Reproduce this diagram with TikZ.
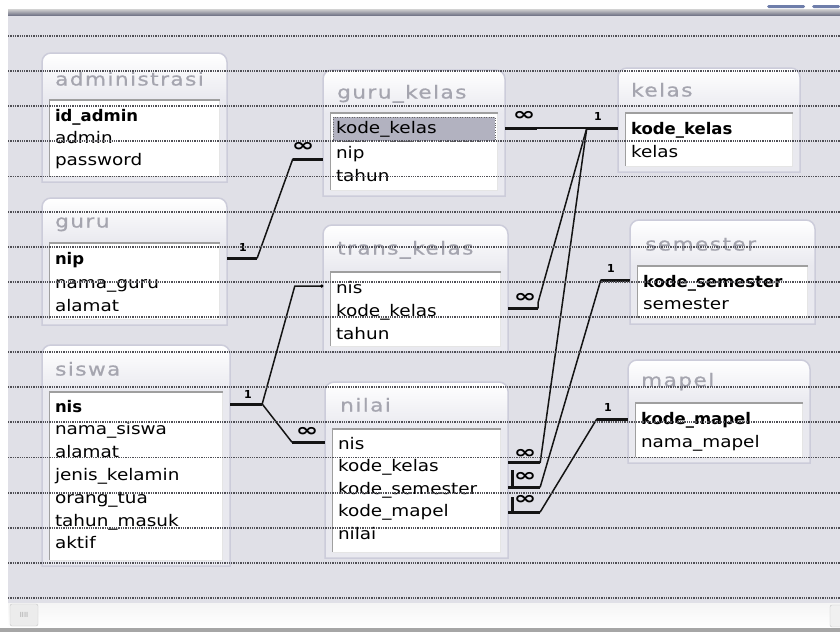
\documentclass[tikz,border=0pt]{standalone}
\usepackage{graphicx}
\usepackage{fontspec}
\setmainfont{DejaVu Sans}
\newfontfamily\fieldf[FakeStretch=1.15]{DejaVu Sans}
\newfontfamily\keyf[FakeStretch=1.03]{DejaVu Sans}
\newfontfamily\titlef[FakeStretch=1.2,LetterSpace=8,FakeBold=0.8]{DejaVu Sans}
\usetikzlibrary{calc}
\definecolor{canvasbg}{RGB}{224,224,231}
\definecolor{tblbg}{RGB}{233,233,239}
\definecolor{tblborder}{RGB}{204,204,218}
\definecolor{titlegray}{RGB}{165,165,175}
\definecolor{framegray}{RGB}{118,120,138}
\definecolor{hilite}{RGB}{178,178,192}
\definecolor{gridline}{RGB}{80,80,86}
\definecolor{btnblue}{RGB}{110,125,170}

\tikzset{
  fld/.style={inner xsep=13pt, inner ysep=0pt, text height=11.5pt, text depth=3.5pt,
    minimum height=22pt, align=left, font=\fieldf\fontsize{16}{19}\selectfont},
  ttl/.style={anchor=west, inner sep=0pt, text height=13pt, text depth=4pt, text=titlegray,
    font=\titlef\fontsize{18}{20}\selectfont},
  stubl/.style={draw=black!92, line width=3pt, line cap=butt},
  rel/.style={draw=black!92, line width=1.5pt, line cap=round, line join=round},
  onelbl/.style={inner sep=0pt, font=\bfseries\fontsize{11}{11}\selectfont},
  inflbl/.style={inner sep=0pt, font=\bfseries\fontsize{18}{18}\selectfont},
  gridl/.style={draw=gridline, line width=1.8pt, dash pattern=on 1.3pt off 1pt}
}

% #1 oL, #2 oT, #3 oR, #4 oB, #5 inner top
\newcommand{\tblframe}[5]{%
  \fill[tblbg] (#1,#4) [rounded corners=9pt] -- (#1,#2) -- (#3,#2) [sharp corners] -- (#3,#4) -- cycle;
  \begin{scope}
    \clip (#1,#4) [rounded corners=9pt] -- (#1,#2) -- (#3,#2) [sharp corners] -- (#3,#4) -- cycle;
    \shade[top color=white, bottom color=tblbg] (#1,#2) rectangle (#3,#5);
  \end{scope}
  \draw[tblborder, line width=1.5pt] (#1,#4) [rounded corners=9pt] -- (#1,#2) -- (#3,#2) [sharp corners] -- (#3,#4) -- cycle;
  \fill[white] (#1+7.5,#5) rectangle (#3-7.5,#4-6);
  \draw[black!10, line width=1pt] (#3-7.5,#5) -- (#3-7.5,#4-6) -- (#1+7.5,#4-6);
  \draw[gray!75, line width=1.2pt] (#1+7.5,#4-6) -- (#1+7.5,#5) -- (#3-7.5,#5);
}
% #1 name, #2 oL, #3 oR, #4 y, #5 text
\newcommand{\fieldrow}[5]{%
  \pgfmathsetmacro{\fw}{#3-#2-26}%
  \node[fld, text width=\fw pt] (#1) at ({(#2+#3)/2},#4) {#5};%
}

\begin{document}
\begin{tikzpicture}[x=1pt,y=-1pt]
\useasboundingbox (0,0) rectangle (840,632);
% window frame
\fill[white] (0,0) rectangle (840,632);
\fill[canvasbg] (8,15) rectangle (840,603);
\shade[top color=gray!35, bottom color=framegray] (8,9) rectangle (840,15);
\fill[btnblue, rounded corners=1.5pt] (767,5) rectangle (805,8);
\fill[btnblue, rounded corners=1.5pt] (812,5) rectangle (840,8);
\shade[top color=gray!8, bottom color=white] (8,603) rectangle (840,628);
\fill[gray!70] (0,628) rectangle (840,632);
\draw[gray!45, fill=gray!15, rounded corners=2pt] (10,604) rectangle (38,626);
\node[inner sep=0pt, text=gray!70, font=\fontsize{7}{7}\selectfont] (scrollgrip) at (24,615) {IIII};
\draw[gray!45, fill=gray!12, rounded corners=2pt] (830,605) rectangle (842,627);

% ---------- administrasi
\tblframe{42}{53}{227}{182}{100}
\node[ttl] (adm-t) at (55,81) {administrasi};
\fieldrow{adm-id}{42}{227}{117}{{\keyf\bfseries id\_admin}}
\fieldrow{adm-admin}{42}{227}{139}{admin}
\fieldrow{adm-pw}{42}{227}{161}{password}

% ---------- guru_kelas
\tblframe{323}{70}{505}{196}{113}
\node[ttl] (gk-t) at (337,94) {guru\_kelas};
\draw[fill=hilite, draw=black!60, dotted] (333,117) rectangle (495,141);
\fieldrow{gk-kk}{323}{505}{129}{kode\_kelas}
\fieldrow{gk-nip}{323}{505}{154}{nip}
\fieldrow{gk-th}{323}{505}{177}{tahun}

% ---------- kelas
\tblframe{618}{68}{800}{172}{113}
\node[ttl] (kl-t) at (631,92) {kelas};
\fieldrow{kl-kk}{618}{800}{130}{{\keyf\bfseries kode\_kelas}}
\fieldrow{kl-kelas}{618}{800}{153}{kelas}

% ---------- guru
\tblframe{42}{198}{227}{325}{243}
\node[ttl] (gr-t) at (55,223) {guru};
\fieldrow{gr-nip}{42}{227}{260}{{\keyf\bfseries nip}}
\fieldrow{gr-nama}{42}{227}{284}{nama\_guru}
\fieldrow{gr-alamat}{42}{227}{307}{alamat}

% ---------- trans_kelas
\tblframe{323}{225}{508}{352}{272}
\node[ttl] (tk-t) at (337,250) {trans\_kelas};
\fieldrow{tk-nis}{323}{508}{289}{nis}
\fieldrow{tk-kk}{323}{508}{312}{kode\_kelas}
\fieldrow{tk-th}{323}{508}{335}{tahun}

% ---------- semester
\tblframe{630}{220}{815}{324}{266}
\node[ttl] (sm-t) at (645,246) {semester};
\fieldrow{sm-ks}{630}{815}{283}{{\keyf\bfseries kode\_semester}}
\fieldrow{sm-sem}{630}{815}{305}{semester}

% ---------- siswa
\tblframe{42}{345}{230}{566}{392}
\node[ttl] (sw-t) at (55,371) {siswa};
\fieldrow{sw-nis}{42}{230}{408}{{\keyf\bfseries nis}}
\fieldrow{sw-nama}{42}{230}{430.8}{nama\_siswa}
\fieldrow{sw-alamat}{42}{230}{453.6}{alamat}
\fieldrow{sw-jk}{42}{230}{476.4}{jenis\_kelamin}
\fieldrow{sw-ot}{42}{230}{499.2}{orang\_tua}
\fieldrow{sw-tm}{42}{230}{522}{tahun\_masuk}
\fieldrow{sw-aktif}{42}{230}{544.8}{aktif}

% ---------- nilai
\tblframe{325}{382}{508}{558}{429}
\node[ttl] (nl-t) at (340,407) {nilai};
\fieldrow{nl-nis}{325}{508}{445}{nis}
\fieldrow{nl-kk}{325}{508}{467.5}{kode\_kelas}
\fieldrow{nl-ks}{325}{508}{490}{kode\_semester}
\fieldrow{nl-km}{325}{508}{512.5}{kode\_mapel}
\fieldrow{nl-nilai}{325}{508}{535}{nilai}

% ---------- mapel
\tblframe{628}{360}{810}{463}{403}
\node[ttl] (mp-t) at (641,382) {mapel};
\fieldrow{mp-km}{628}{810}{420}{{\keyf\bfseries kode\_mapel}}
\fieldrow{mp-nm}{628}{810}{443}{nama\_mapel}

% ---------- relationships
% guru.nip -> guru_kelas.nip
\draw[stubl] ($(gr-nip.east)+(0,-2)$) -- ++(30,0) coordinate (c1a);
\coordinate (c1b) at ($(gk-nip.west)+(-30,5)$);
\draw[stubl] (c1b) -- ($(gk-nip.west)+(0,5)$);
\draw[rel] (c1a) -- (c1b);
\node[onelbl] (l1) at (243,247) {1};
\node[inflbl] (i1) at (303,147) {\scalebox{1.5}[1]{∞}};

% guru_kelas.kode_kelas -> kelas.kode_kelas
\draw[stubl] ($(gk-kk.east)+(0,-1)$) -- ++(32,0) coordinate (c2a);
\coordinate (kj) at ($(kl-kk.west)+(-31,-2)$);
\draw[stubl] (kj) -- ($(kl-kk.west)+(0,-2)$);
\draw[rel] (c2a) -- (kj);
\node[inflbl] (i2) at (524,116) {\scalebox{1.5}[1]{∞}};
\node[onelbl] (l2) at (598,116) {1};

% trans_kelas.kode_kelas -> kelas.kode_kelas
\draw[stubl] ($(tk-kk.east)+(0,-4)$) -- ++(30,0) coordinate (c3a);
\draw[rel] (c3a) -- ++(0,-6) -- (kj);
\node[inflbl] (i3) at (525,298) {\scalebox{1.5}[1]{∞}};

% nilai.kode_kelas -> kelas.kode_kelas
\draw[stubl] ($(nl-kk.east)+(0,-5)$) -- ++(32,0) coordinate (c4a);
\draw[rel] (c4a) -- (kj);
\node[inflbl] (i4) at (525,454) {\scalebox{1.5}[1]{∞}};

% nilai.kode_semester -> semester.kode_semester
\draw[stubl] ($(nl-ks.east)+(4,-20)$) -- ($(nl-ks.east)+(4,-3)$);
\draw[stubl] ($(nl-ks.east)+(0,-3)$) -- ++(32,0) coordinate (c5a);
\coordinate (sj) at ($(sm-ks.west)+(-29,-3)$);
\draw[stubl] (sj) -- ($(sm-ks.west)+(0,-3)$);
\draw[rel] (c5a) -- (sj);
\node[inflbl] (i5) at (525,477) {\scalebox{1.5}[1]{∞}};
\node[onelbl] (l5) at (611,268) {1};

% nilai.kode_mapel -> mapel.kode_mapel
\draw[stubl] ($(nl-km.east)+(4,-15.5)$) -- ($(nl-km.east)+(4,-0.5)$);
\draw[stubl] ($(nl-km.east)+(0,-0.5)$) -- ++(32,0) coordinate (c6a);
\coordinate (mj) at ($(mp-km.west)+(-31,-1)$);
\draw[stubl] (mj) -- ($(mp-km.west)+(0,-1)$);
\draw[rel] (c6a) -- (mj);
\node[inflbl] (i6) at (525,500) {\scalebox{1.5}[1]{∞}};
\node[onelbl] (l6) at (608,407) {1};

% siswa.nis -> trans_kelas.nis and nilai.nis
\draw[stubl] ($(sw-nis.east)+(0,-4)$) -- ++(32,0) coordinate (sj7);
\node[onelbl] (l7) at (248,394) {1};
\coordinate (c7b) at ($(tk-nis.west)+(-28,-3)$);
\coordinate (c7c) at ($(tk-nis.west)+(-1,-3)$);
\draw[rel] (sj7) -- (c7b) -- (c7c);
\fill[black] (c7c) circle (1.8pt);
\coordinate (c8b) at ($(nl-nis.west)+(-33,-3)$);
\draw[rel] (sj7) -- (c8b);
\draw[stubl] (c8b) -- ($(nl-nis.west)+(0,-3)$);
\node[inflbl] (i8) at (307,432) {\scalebox{1.5}[1]{∞}};

% ---------- dotted scan lines
\foreach \k in {0,...,16} {
  \draw[gridl] (8,{36+35.125*\k}) -- (840,{36+35.125*\k});
}
\end{tikzpicture}
\end{document}
